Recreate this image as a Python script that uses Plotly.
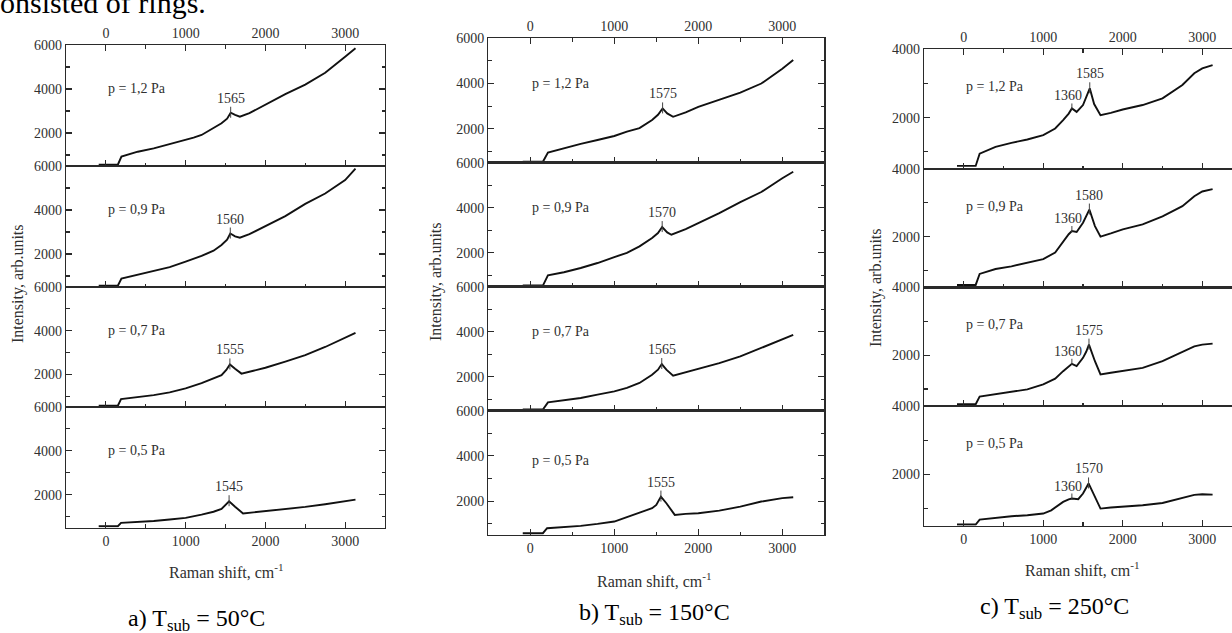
import numpy as np
import plotly.graph_objects as go

W, H = 1232, 633

# ---------------- data ----------------
pressures = ["p = 1,2 Pa", "p = 0,9 Pa", "p = 0,7 Pa", "p = 0,5 Pa"]
captions = ["a) T<sub>sub</sub> = 50°C", "b) T<sub>sub</sub> = 150°C", "c) T<sub>sub</sub> = 250°C"]

# panel a (T = 50 C)
a12_x = [-90, 150, 195, 400, 600, 800, 1000, 1100, 1200, 1350, 1450, 1520, 1565, 1620, 1680, 1800, 2000, 2250, 2500, 2750, 3000, 3130]
a12_y = [560, 560, 930, 1150, 1300, 1490, 1700, 1790, 1910, 2210, 2440, 2650, 2920, 2820, 2740, 2900, 3300, 3770, 4200, 4740, 5470, 5850]
a09_x = [-90, 150, 195, 400, 600, 800, 1000, 1200, 1350, 1450, 1520, 1560, 1620, 1680, 1800, 2000, 2250, 2500, 2750, 3000, 3130]
a09_y = [560, 560, 880, 1050, 1200, 1400, 1650, 1910, 2150, 2410, 2650, 2930, 2800, 2740, 2900, 3270, 3720, 4280, 4750, 5360, 5880]
a07_x = [-90, 150, 190, 400, 600, 800, 1000, 1200, 1350, 1450, 1510, 1555, 1620, 1700, 1850, 2000, 2250, 2500, 2750, 3000, 3130]
a07_y = [560, 560, 860, 940, 1045, 1170, 1350, 1590, 1800, 1960, 2200, 2450, 2250, 2030, 2160, 2300, 2580, 2880, 3250, 3670, 3900]
a05_x = [-90, 150, 190, 400, 600, 800, 1000, 1200, 1350, 1450, 1500, 1545, 1620, 1720, 1850, 2000, 2250, 2500, 2750, 3000, 3130]
a05_y = [560, 560, 710, 745, 800, 865, 940, 1090, 1220, 1350, 1520, 1700, 1450, 1140, 1190, 1240, 1330, 1440, 1560, 1700, 1770]

# panel b (T = 150 C)
b12_x = [-90, 150, 210, 400, 600, 800, 1000, 1150, 1300, 1450, 1520, 1575, 1630, 1700, 1850, 2000, 2250, 2500, 2750, 3000, 3130]
b12_y = [545, 545, 945, 1140, 1330, 1505, 1680, 1870, 2030, 2390, 2620, 2900, 2680, 2530, 2720, 2970, 3270, 3600, 4000, 4650, 5040]
b09_x = [-90, 150, 210, 400, 600, 800, 1000, 1150, 1300, 1450, 1520, 1570, 1630, 1680, 1850, 2000, 2250, 2500, 2750, 3000, 3130]
b09_y = [550, 550, 1005, 1140, 1330, 1550, 1815, 2000, 2290, 2660, 2880, 3145, 2910, 2805, 3055, 3320, 3760, 4250, 4700, 5310, 5600]
b07_x = [-90, 150, 210, 400, 600, 800, 1000, 1150, 1300, 1450, 1520, 1565, 1620, 1700, 1850, 2000, 2250, 2500, 2750, 3000, 3130]
b07_y = [550, 550, 870, 960, 1065, 1210, 1360, 1510, 1730, 2095, 2320, 2570, 2320, 2055, 2200, 2350, 2610, 2905, 3280, 3675, 3865]
b05_x = [-90, 150, 200, 400, 600, 800, 1000, 1150, 1300, 1450, 1500, 1555, 1620, 1720, 1850, 2000, 2250, 2500, 2750, 3000, 3130]
b05_y = [580, 580, 800, 846, 904, 990, 1095, 1290, 1490, 1685, 1830, 2200, 1905, 1390, 1435, 1465, 1580, 1755, 1980, 2130, 2170]

# panel c (T = 250 C)
c12_x = [-85, 150, 200, 400, 600, 800, 1000, 1150, 1250, 1320, 1360, 1420, 1500, 1550, 1585, 1640, 1720, 1850, 2000, 2250, 2500, 2750, 2900, 3000, 3130]
c12_y = [590, 590, 950, 1146, 1264, 1363, 1490, 1685, 1930, 2120, 2270, 2170, 2370, 2650, 2860, 2400, 2075, 2140, 2240, 2370, 2565, 2955, 3300, 3440, 3540]
c09_x = [-85, 150, 200, 400, 600, 800, 1000, 1150, 1250, 1320, 1360, 1420, 1500, 1540, 1580, 1650, 1720, 1850, 2000, 2250, 2500, 2750, 2900, 3000, 3130]
c09_y = [570, 570, 895, 1040, 1120, 1220, 1335, 1530, 1870, 2070, 2165, 2135, 2410, 2600, 2800, 2310, 2000, 2095, 2215, 2360, 2600, 2900, 3195, 3335, 3405]
c07_x = [-85, 150, 200, 400, 600, 800, 1000, 1150, 1250, 1320, 1360, 1420, 1500, 1540, 1575, 1650, 1720, 1850, 2000, 2250, 2500, 2750, 2900, 3000, 3130]
c07_y = [550, 550, 775, 844, 912, 990, 1140, 1305, 1527, 1680, 1745, 1675, 1920, 2100, 2310, 1820, 1430, 1480, 1530, 1625, 1820, 2100, 2260, 2310, 2340]
c05_x = [-85, 150, 200, 400, 600, 800, 1000, 1100, 1250, 1320, 1360, 1440, 1500, 1570, 1650, 1720, 1850, 2000, 2250, 2500, 2750, 2900, 3000, 3130]
c05_y = [535, 535, 680, 739, 777, 806, 855, 950, 1195, 1270, 1295, 1275, 1440, 1735, 1345, 1000, 1030, 1050, 1100, 1165, 1320, 1400, 1420, 1410]

peaks_a = [1565, 1560, 1555, 1545]
peaks_b = [1575, 1570, 1565, 1555]
peaks_c = [1585, 1580, 1575, 1570]
shoulder_c = 1360

x_ticks = [0, 1000, 2000, 3000]
y_ticks_ab = [2000, 4000, 6000]
y_ticks_c = [2000, 4000]

panels = [
    dict(curves=[(a12_x, a12_y), (a09_x, a09_y), (a07_x, a07_y), (a05_x, a05_y)], peaks=peaks_a, shoulder=None,
         yrange=[500, 6000], yticks=y_ticks_ab, xrange=[-500, 3500], ylab_y=[4000, 4000, 4000, 4000]),
    dict(curves=[(b12_x, b12_y), (b09_x, b09_y), (b07_x, b07_y), (b05_x, b05_y)], peaks=peaks_b, shoulder=None,
         yrange=[500, 6000], yticks=y_ticks_ab, xrange=[-500, 3500], ylab_y=[4000, 4000, 4000, 3800]),
    dict(curves=[(c12_x, c12_y), (c09_x, c09_y), (c07_x, c07_y), (c05_x, c05_y)], peaks=peaks_c, shoulder=shoulder_c,
         yrange=[500, 4000], yticks=y_ticks_c, xrange=[-500, 3374], ylab_y=[2900, 2900, 2900, 2900]),
]

# ---------------- layout geometry (pixels) ----------------
X_DOM = [(66, 385), (488.3, 824.3), (924, 1232)]
Y_BOUNDS = [[45, 166, 287, 407, 527.5], [38.3, 162.7, 286.7, 410.7, 535], [49.3, 169, 287.3, 406, 525.7]]
XTITLE_POS = [(226, 571), (655, 580), (1082, 569)]
YTITLE_POS = [(18, 284), (436, 282), (876, 288)]
CAPTION_POS = [(196.7, 619.5), (655, 614), (1054, 608)]

SERIF = "Liberation Serif"
AX_COL = "#2a2a2a"
TXT_COL = "#303030"


def px_x(p):
    return min(max(p / W, 0), 1)


def px_y(p):
    return min(max(1 - p / H, 0), 1)


fig = go.Figure()
annotations = []
shapes = []

for pi, panel in enumerate(panels):
    for r in range(4):
        n = pi * 4 + r + 1
        xs, ys = panel["curves"][r]
        fig.add_trace(go.Scatter(x=xs, y=ys, mode="lines", line=dict(color="#111111", width=1.9),
                                 xaxis=f"x{n}", yaxis=f"y{n}", showlegend=False, hoverinfo="skip"))
        top = r == 0
        bottom = r == 3
        xa = dict(domain=[px_x(X_DOM[pi][0]), px_x(X_DOM[pi][1])], range=panel["xrange"], anchor=f"y{n}",
                  tickmode="array", tickvals=x_ticks, ticks="inside", ticklen=6, tickwidth=1.1, tickcolor=AX_COL,
                  minor=dict(tickmode="array", tickvals=[-500, 500, 1500, 2500, 3500], ticks="inside", ticklen=3.5,
                             tickwidth=1.1, tickcolor=AX_COL),
                  showline=True, linecolor=AX_COL, linewidth=1.3, showgrid=False, zeroline=False,
                  automargin=False,
                  tickfont=dict(family=SERIF, size=14, color=TXT_COL), fixedrange=True)
        if top:
            xa.update(side="top", mirror="ticks", showticklabels=True)
        elif bottom:
            xa.update(side="bottom", mirror=True, showticklabels=True)
        else:
            xa.update(side="bottom", mirror=True, showticklabels=False)
        yb = Y_BOUNDS[pi]
        ya = dict(domain=[px_y(yb[r + 1]), px_y(yb[r])], range=panel["yrange"], anchor=f"x{n}",
                  tickmode="array", tickvals=panel["yticks"], ticks="inside", ticklen=6, tickwidth=1.1,
                  tickcolor=AX_COL,
                  minor=dict(tickmode="array", tickvals=[1000, 3000, 5000], ticks="inside", ticklen=3.5,
                             tickwidth=1.1, tickcolor=AX_COL),
                  showline=True, linecolor=AX_COL, linewidth=1.3, mirror=("ticks" if pi < 2 else False),
                  showgrid=False, zeroline=False, automargin=False,
                  tickfont=dict(family=SERIF, size=14, color=TXT_COL), fixedrange=True)
        fig.update_layout(**{f"xaxis{n}": xa, f"yaxis{n}": ya})

        # pressure label
        annotations.append(dict(x=0, y=panel["ylab_y"][r], xref=f"x{n}", yref=f"y{n}", text=pressures[r],
                                showarrow=False, xanchor="left", yanchor="middle",
                                font=dict(family=SERIF, size=14, color=TXT_COL)))
        # peak label + tick
        pk = panel["peaks"][r]
        pky = float(np.interp(pk, xs, ys))
        annotations.append(dict(x=pk, y=pky, xref=f"x{n}", yref=f"y{n}", text=str(pk), showarrow=False,
                                xanchor="center", yanchor="bottom", yshift=5,
                                font=dict(family=SERIF, size=14, color=TXT_COL)))
        shapes.append(dict(type="line", xref=f"x{n}", yref=f"y{n}", x0=pk, x1=pk, ysizemode="pixel",
                           yanchor=pky, y0=-5, y1=6, line=dict(color="#444444", width=1)))
        if panel["shoulder"] is not None:
            sh = panel["shoulder"]
            shy = float(np.interp(sh, xs, ys))
            annotations.append(dict(x=sh, y=shy, xref=f"x{n}", yref=f"y{n}", text=str(sh), showarrow=False,
                                    xanchor="center", yanchor="bottom", yshift=3, xshift=-4,
                                    font=dict(family=SERIF, size=14, color=TXT_COL)))
            shapes.append(dict(type="line", xref=f"x{n}", yref=f"y{n}", x0=sh, x1=sh, ysizemode="pixel",
                               yanchor=shy, y0=-1, y1=5, line=dict(color="#444444", width=1)))

    # axis titles and caption
    xt = XTITLE_POS[pi]
    annotations.append(dict(x=px_x(xt[0]), y=px_y(xt[1]), xref="paper", yref="paper",
                            text="Raman shift, cm<sup>-1</sup>", showarrow=False, xanchor="center",
                            yanchor="middle", font=dict(family=SERIF, size=16, color=TXT_COL)))
    yt = YTITLE_POS[pi]
    annotations.append(dict(x=px_x(yt[0]), y=px_y(yt[1]), xref="paper", yref="paper",
                            text="Intensity, arb.units", showarrow=False, textangle=-90, xanchor="center",
                            yanchor="middle", font=dict(family=SERIF, size=16, color=TXT_COL)))
    cp = CAPTION_POS[pi]
    annotations.append(dict(x=px_x(cp[0]), y=px_y(cp[1]), xref="paper", yref="paper", text=captions[pi],
                            showarrow=False, xanchor="center", yanchor="middle",
                            font=dict(family=SERIF, size=24, color="#000000")))

# fragment of body text at the top-left
annotations.append(dict(x=0, y=px_y(21), xref="paper", yref="paper", text="onsisted of rings.", showarrow=False,
                        xanchor="left", yanchor="bottom", xshift=-2,
                        font=dict(family=SERIF, size=30, color="#000000")))

fig.update_layout(width=W, height=H, margin=dict(l=0, r=0, t=0, b=0, pad=0), paper_bgcolor="white",
                  plot_bgcolor="rgba(0,0,0,0)", annotations=annotations, shapes=shapes, showlegend=False)

fig.write_html("out.html", config={"displayModeBar": False, "staticPlot": True},
               post_script="document.body.style.margin='0';document.body.style.padding='0';")
